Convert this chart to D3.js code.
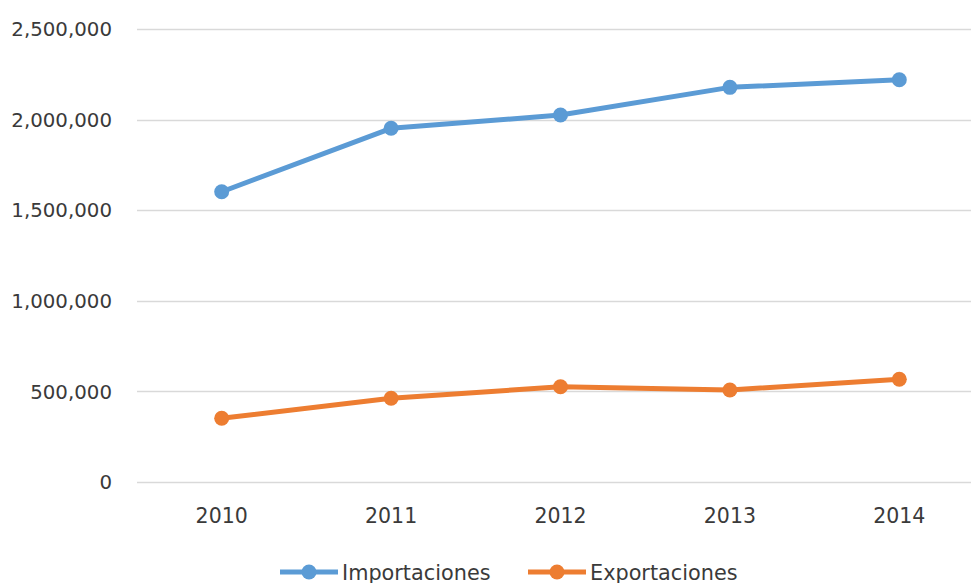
<!DOCTYPE html>
<html>
<head>
<meta charset="utf-8">
<script src="https://cdn.jsdelivr.net/npm/d3@7"></script>
<style>
    body { margin: 0; background: #fff; }
    svg { display: block; font-family: "DejaVu Sans", sans-serif; }
</style>
</head>
<body>
<script>
    // data
    var years = ["2010", "2011", "2012", "2013", "2014"];
    var importaciones = [1602000, 1952000, 2025000, 2178000, 2220000];
    var exportaciones = [352000, 462000, 526000, 508000, 567000];
    var yTicks = [0, 500000, 1000000, 1500000, 2000000, 2500000];
    var seriesNames = ["Importaciones", "Exportaciones"];
    var seriesColors = ["#5B9BD5", "#ED7D31"];

    var width = 971, height = 583;

    var svg = d3.select("body").append("svg")
        .attr("width", width)
        .attr("height", height);

    var x = d3.scaleBand()
        .domain(years)
        .range([137, 984]);

    var y = d3.scaleLinear()
        .domain([0, 2500000])
        .range([482, 29]);

    // gridlines
    svg.append("g")
        .selectAll("line")
        .data(yTicks)
        .enter().append("line")
            .attr("x1", 137)
            .attr("x2", width)
            .attr("y1", function(d) { return Math.round(y(d)) + 0.5; })
            .attr("y2", function(d) { return Math.round(y(d)) + 0.5; })
            .style("stroke", "#d9d9d9")
            .style("stroke-width", "1.5px");

    // y axis labels
    var fmt = d3.format(",");
    svg.append("g")
        .selectAll("text")
        .data(yTicks)
        .enter().append("text")
            .attr("x", 112)
            .attr("y", function(d) { return y(d); })
            .attr("dy", "0.36em")
            .attr("text-anchor", "end")
            .style("font-size", "19.8px")
            .style("fill", "#3a3a3a")
            .text(function(d) { return fmt(d); });

    // x axis labels
    svg.append("g")
        .selectAll("text")
        .data(years)
        .enter().append("text")
            .attr("x", function(d) { return x(d) + x.bandwidth() / 2; })
            .attr("y", 523)
            .attr("text-anchor", "middle")
            .style("font-size", "20.5px")
            .style("fill", "#3a3a3a")
            .text(function(d) { return d; });

    var series = [importaciones, exportaciones];

    var line = d3.line()
        .x(function(d, i) { return x(years[i]) + x.bandwidth() / 2; })
        .y(function(d) { return y(d); });

    series.forEach(function(values, s){
        svg.append("path")
            .datum(values)
            .attr("d", line)
            .style("fill", "none")
            .style("stroke", seriesColors[s])
            .style("stroke-width", "5px")
            .style("stroke-linejoin", "round");

        svg.append("g")
            .selectAll("circle")
            .data(values)
            .enter().append("circle")
                .attr("cx", function(d, i) { return x(years[i]) + x.bandwidth() / 2; })
                .attr("cy", function(d) { return y(d); })
                .attr("r", 7.5)
                .style("fill", seriesColors[s]);
    });

    // legend
    var legendX = [280, 528];
    var legend = svg.append("g")
        .selectAll("g")
        .data(seriesNames)
        .enter().append("g")
            .attr("transform", function(d, i) { return "translate(" + legendX[i] + ",572)"; });

    legend.append("line")
        .attr("x1", 0)
        .attr("x2", 58)
        .style("stroke", function(d, i) { return seriesColors[i]; })
        .style("stroke-width", "5px");

    legend.append("circle")
        .attr("cx", 29)
        .attr("r", 7.5)
        .style("fill", function(d, i) { return seriesColors[i]; });

    legend.append("text")
        .attr("x", 62)
        .attr("dy", "0.36em")
        .style("font-size", "20.8px")
        .style("fill", "#3a3a3a")
        .text(function(d) { return d; });
</script>
</body>
</html>
